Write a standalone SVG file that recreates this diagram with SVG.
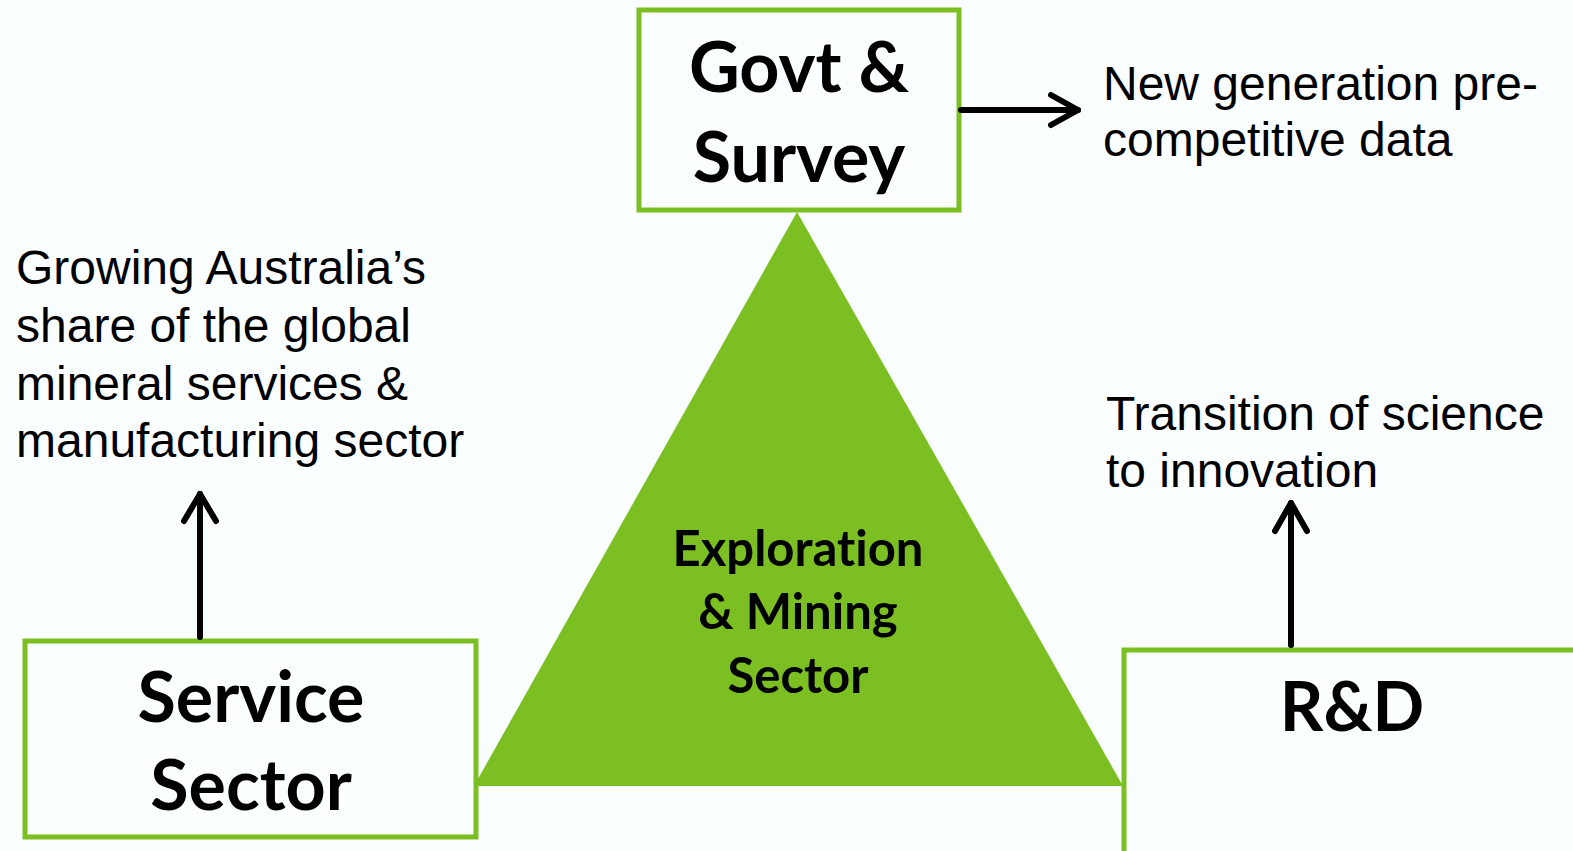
<svg xmlns="http://www.w3.org/2000/svg" width="1573" height="851" viewBox="0 0 1573 851">
<style>
.box{fill:#FBFEFF;stroke:#7BBF23;stroke-width:5}
.lbl{font-family:Lato,"Open Sans","Liberation Sans",sans-serif;font-weight:bold;fill:#000;text-anchor:middle;font-variant-ligatures:none}
.note{font-family:"Liberation Sans",Arial,sans-serif;font-size:48px;fill:#000}
.conn{stroke:#000;stroke-width:6;fill:none;stroke-linecap:round;stroke-linejoin:round}
</style>
<rect width="1573" height="851" fill="#FBFEFF"/>
<g id="triangle">
<polygon points="797,212 474,786 1123,786" fill="#7BBF22"/>
<text class="lbl" font-size="49" x="798" y="566">Exploration</text>
<text class="lbl" font-size="49" x="798" y="629">&amp; Mining</text>
<text class="lbl" font-size="49" x="798" y="693">Sector</text>
</g>
<g id="govt">
<rect class="box" x="639" y="10" width="320" height="200"/>
<text class="lbl" font-size="70" x="799" y="92">Govt &amp;</text>
<text class="lbl" font-size="70" x="799" y="182">Survey</text>
</g>
<g id="service">
<rect class="box" x="25" y="641" width="451" height="196"/>
<text class="lbl" font-size="70" x="251" y="722">Service</text>
<text class="lbl" font-size="70" x="251" y="810">Sector</text>
</g>
<g id="rd">
<rect class="box" x="1124" y="650" width="470" height="220"/>
<text class="lbl" font-size="68" x="1352" y="731">R&amp;D</text>
</g>
<g id="notes">
<text class="note" x="1103" y="100">New generation pre-</text>
<text class="note" x="1103" y="156">competitive data</text>
<text class="note" x="16" y="284">Growing Australia’s</text>
<text class="note" x="16" y="342">share of the global</text>
<text class="note" x="16" y="400">mineral services &amp;</text>
<text class="note" x="16" y="457">manufacturing sector</text>
<text class="note" x="1106" y="430">Transition of science</text>
<text class="note" x="1106" y="487">to innovation</text>
</g>
<g id="connectors">
<line class="conn" x1="961" y1="110" x2="1078" y2="110"/>
<polyline class="conn" points="1051,95 1078,110 1051,125"/>
<line class="conn" x1="200" y1="637" x2="200" y2="494"/>
<polyline class="conn" points="184,521 200,494 216,521"/>
<line class="conn" x1="1291" y1="645" x2="1291" y2="503"/>
<polyline class="conn" points="1275,531 1291,503 1307,531"/>
</g>
</svg>
